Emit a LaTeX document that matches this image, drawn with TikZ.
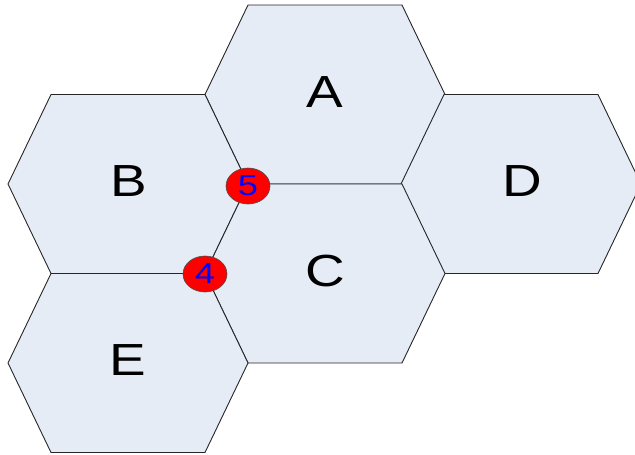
\documentclass[tikz,border=0pt]{standalone}
\usepackage{fontspec}
\setmainfont{Liberation Sans}
\usetikzlibrary{shapes.geometric}
\definecolor{hexfill}{RGB}{230,236,246}
\tikzset{
  hexcell/.style={fill=hexfill, draw=black!85, line width=0.9pt, line join=miter},
  celllabel/.style={font=\fontsize{45}{45}\selectfont, inner sep=0pt},
  vertexmark/.style={ellipse, fill=red, draw=black!70, line width=0.6pt,
    minimum width=44pt, minimum height=36pt, inner sep=0pt, text=blue,
    font=\fontsize{29}{29}\selectfont},
}
\newcommand{\hexcellat}[1]{\path[hexcell] (#1) ++(-120,0) -- ++(43,-89.5) -- ++(154,0) -- ++(43,89.5) -- ++(-43,89.5) -- ++(-154,0) -- cycle;}
\begin{document}
\begin{tikzpicture}[x=1pt,y=-1pt]
\useasboundingbox (0,0) rectangle (635,455);
\coordinate (cA) at (325,94.5);
\coordinate (cB) at (128,184);
\coordinate (cC) at (325,273.5);
\coordinate (cD) at (521,184);
\coordinate (cE) at (128,363);
\hexcellat{cA}
\hexcellat{cB}
\hexcellat{cD}
\hexcellat{cC}
\hexcellat{cE}
\node[celllabel] (lA) at (325,92) {\scalebox{1.22}[1]{A}};
\node[celllabel] (lB) at (129,181) {\scalebox{1.22}[1]{B}};
\node[celllabel] (lC) at (325,271) {\scalebox{1.22}[1]{C}};
\node[celllabel] (lD) at (522,181) {\scalebox{1.22}[1]{D}};
\node[celllabel] (lE) at (128,360) {\scalebox{1.22}[1]{E}};
\node[vertexmark] (m5) at (248,186) {\scalebox{1.25}[1]{5}};
\node[vertexmark] (m4) at (205,274) {\scalebox{1.25}[1]{4}};
\end{tikzpicture}
\end{document}
